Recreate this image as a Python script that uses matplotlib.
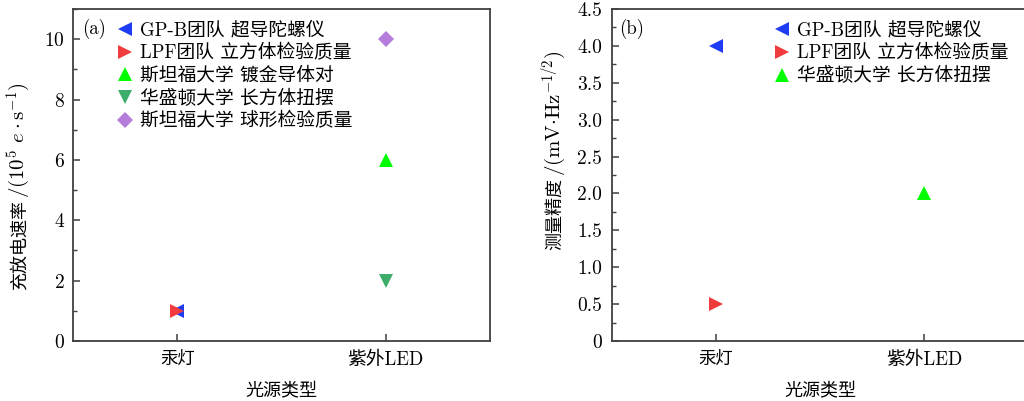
import numpy as np
import matplotlib
matplotlib.use('Agg')
import matplotlib.pyplot as plt
from matplotlib.ticker import MultipleLocator, FixedFormatter, FixedLocator

plt.rcParams['font.family'] = ['cmr10', 'Noto Sans CJK SC']
plt.rcParams['mathtext.fontset'] = 'cm'
plt.rcParams['axes.unicode_minus'] = False
plt.rcParams['axes.formatter.use_mathtext'] = True

# data
categories = ['汞灯', '紫外LED']

# panel (a): charge/discharge rate, 10^5 e/s
a_labels = ['GP-B团队 超导陀螺仪', 'LPF团队 立方体检验质量', '斯坦福大学 镀金导体对',
            '华盛顿大学 长方体扭摆', '斯坦福大学 球形检验质量']
a_x = [0, 0, 1, 1, 1]
a_y = [1, 1, 6, 2, 10]
a_markers = ['<', '>', '^', 'v', 'D']
a_colors = ['#1f3cf5', '#f03c3c', '#00ff00', '#3cad6a', '#b47ddc']

# panel (b): measurement precision, mV/Hz^1/2
b_labels = ['GP-B团队 超导陀螺仪', 'LPF团队 立方体检验质量', '华盛顿大学 长方体扭摆']
b_x = [0, 0, 1]
b_y = [4.0, 0.5, 2.0]
b_markers = ['<', '>', '^']
b_colors = ['#1f3cf5', '#f03c3c', '#00ff00']

W, H = 1024, 401
fig = plt.figure(figsize=(W / 100, H / 100), dpi=100)
ax1 = fig.add_axes([73 / W, 1 - 341 / H, 417 / W, 332 / H])
ax2 = fig.add_axes([612 / W, 1 - 341 / H, 416 / W, 332 / H])

spine_col = '#404040'
num_fs = 14      # latin-only tick numbers
mix_fs = 13.5    # mixed CJK/latin text

for ax in (ax1, ax2):
    for s in ax.spines.values():
        s.set_color(spine_col)
        s.set_linewidth(1.3)
    ax.tick_params(which='both', direction='in', top=False, right=False,
                   color=spine_col, labelsize=num_fs)
    ax.tick_params(which='major', length=5, width=1.1)
    ax.tick_params(which='minor', length=3, width=1.0)
    ax.tick_params(axis='x', pad=7)
    ax.set_xlim(-0.5, 1.5)
    ax.set_xticks([0, 1])
    ax.set_xticklabels(categories)
    tl = ax.get_xticklabels()
    tl[0].set_fontsize(12.5)
    tl[1].set_fontsize(mix_fs)
    ax.set_xlabel('光源类型', fontsize=13, labelpad=10)

def draw_ylabel(x_px, y_px, cjk, rest):
    # two pieces on one baseline: CJK text, then the unit part in mathtext
    t1 = fig.text(x_px / W, 1 - y_px / H, cjk, rotation=90, rotation_mode='anchor',
                  ha='left', va='baseline', fontsize=13)
    fig.canvas.draw()
    bb = t1.get_window_extent()
    fig.text(x_px / W, 1 - y_px / H + (bb.height + 2) / H, rest, rotation=90,
             rotation_mode='anchor', ha='left', va='baseline', fontsize=15)

for x, y, m, c, lab in zip(a_x, a_y, a_markers, a_colors, a_labels):
    ax1.plot(x, y, linestyle='none', marker=m, color=c,
             markersize=8 if m == 'D' else 9.5, markeredgewidth=0, label=lab)
ax1.set_ylim(0, 11)
ax1.yaxis.set_major_locator(MultipleLocator(2))
ax1.yaxis.set_minor_locator(MultipleLocator(1))
ax1.tick_params(axis='y', pad=6)
ax1.legend(loc='upper left', bbox_to_anchor=(0.103, 0.962), frameon=False,
           fontsize=mix_fs, handlelength=1.0, handletextpad=0.3,
           labelspacing=0.25, borderaxespad=0.0, borderpad=0.0)
ax1.text(0.022, 0.94, '(a)', transform=ax1.transAxes, fontsize=13.5,
         va='center', ha='left')

for x, y, m, c, lab in zip(b_x, b_y, b_markers, b_colors, b_labels):
    ax2.plot(x, y, linestyle='none', marker=m, color=c, markersize=9.5,
             markeredgewidth=0, label=lab)
ax2.set_ylim(0, 4.5)
yt = [0, 0.5, 1.0, 1.5, 2.0, 2.5, 3.0, 3.5, 4.0, 4.5]
ax2.yaxis.set_major_locator(FixedLocator(yt))
ax2.yaxis.set_major_formatter(FixedFormatter(['0'] + ['%.1f' % v for v in yt[1:]]))
ax2.yaxis.set_minor_locator(MultipleLocator(0.25))
ax2.tick_params(axis='y', pad=7)
ax2.legend(loc='upper left', bbox_to_anchor=(0.386, 0.962), frameon=False,
           fontsize=mix_fs, handlelength=1.0, handletextpad=0.3,
           labelspacing=0.25, borderaxespad=0.0, borderpad=0.0)
ax2.text(0.018, 0.94, '(b)', transform=ax2.transAxes, fontsize=13.5,
         va='center', ha='left')

draw_ylabel(25, 290, '充放电速率', r'/(10$^5$ $e\cdot$s$^{-1}$)')
draw_ylabel(560, 250, '测量精度', r'/(mV$\cdot$Hz$^{-1/2}$)')

fig.savefig('out.png', dpi=100)
